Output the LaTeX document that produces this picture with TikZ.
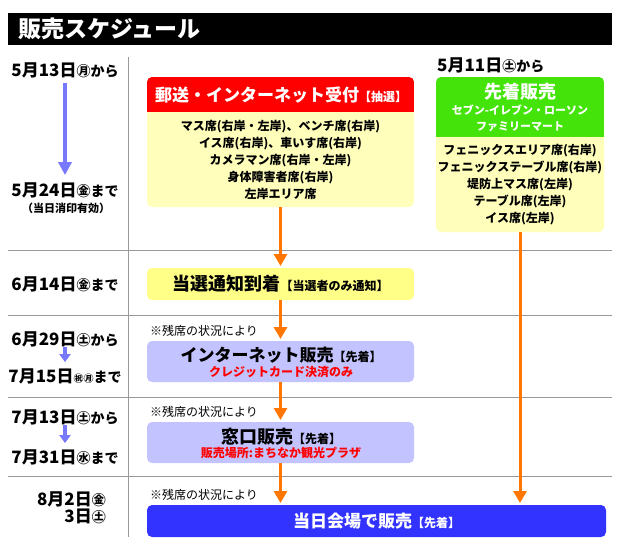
\documentclass[tikz,border=0pt]{standalone}
\usepackage{fontspec}
\setmainfont{Noto Sans CJK JP}
\usetikzlibrary{arrows.meta,positioning}
\definecolor{hdrred}{HTML}{FF0000}
\definecolor{hdrgreen}{HTML}{44E40A}
\definecolor{bodyyellow}{HTML}{FFFFBB}
\definecolor{noticeyellow}{HTML}{FFFF88}
\definecolor{lavender}{HTML}{C3C3FF}
\definecolor{venueblue}{HTML}{3333FF}
\definecolor{flow}{HTML}{FF7700}
\definecolor{period}{HTML}{7878FF}
\definecolor{rule}{HTML}{999999}
\newcommand{\wkd}[1]{{\fontsize{14}{15}\selectfont #1}}
\newcommand{\brk}[1]{{\fontsize{12}{14}\selectfont #1}}
\tikzset{
  box/.style={rounded corners=5pt, inner sep=0pt, outer sep=0pt},
  flowarrow/.style={draw=flow, line width=3pt, shorten >=2pt, -{Triangle[width=13pt,length=12pt]}},
  periodarrow/.style={draw=period, line width=3.3pt, -{Triangle[width=13pt,length=13pt]}},
  datelabel/.style={font=\bfseries\fontsize{17}{18}\selectfont, inner sep=0pt},
  remark/.style={font=\fontsize{12}{14}\selectfont, anchor=west, inner sep=0pt},
  headtext/.style={font=\bfseries\fontsize{18}{20}\selectfont, inner sep=0pt},
  seattext/.style={font=\bfseries\fontsize{12}{16.8}\selectfont, align=center, inner sep=0pt},
  redtext/.style={font=\bfseries\fontsize{12}{14}\selectfont, text=red, inner sep=0pt},
}
\begin{document}
\begin{tikzpicture}[x=1pt,y=-1pt]
\useasboundingbox (0,0) rectangle (620,550);

\fill[black] (8,13) rectangle (612,45);
\node[anchor=west, text=white, font=\bfseries\fontsize{23}{24}\selectfont, inner sep=0pt] (title) at (18,29) {販売スケジュール};

\draw[rule, line width=1pt] (128,57) -- (128,537);
\draw[rule, line width=1pt] (8,250) -- (612,250);
\draw[rule, line width=1pt] (8,315) -- (612,315);
\draw[rule, line width=1pt] (8,397) -- (612,397);
\draw[rule, line width=1pt] (8,476) -- (612,476);

\node[datelabel] (d0513) at (65,70) {5月13日\wkd{㊊から}};
\node[datelabel] (d0524) at (65,190) {5月24日\wkd{㊎まで}};
\node[font=\bfseries\fontsize{11}{12}\selectfont, inner sep=0pt] (postmark) at (66,208) {（当日消印有効）};
\node[datelabel] (d0614) at (65,284) {6月14日\wkd{㊎まで}};
\node[datelabel] (d0629) at (65,339) {6月29日\wkd{㊏から}};
\node[datelabel] (d0715) at (65,376) {7月15日{\fontsize{10}{12}\selectfont ㊗㊊}\wkd{まで}};
\node[datelabel] (d0713) at (65,417) {7月13日\wkd{㊏から}};
\node[datelabel] (d0731) at (65,457) {7月31日\wkd{㊌まで}};
\node[datelabel, anchor=east] (d0802) at (106,499) {8月2日\wkd{㊎}};
\node[datelabel, anchor=east] (d0803) at (106,516) {3日\wkd{㊏}};
\node[datelabel, anchor=west] (d0511) at (437,65) {5月11日\wkd{㊏から}};

\draw[periodarrow, shorten <=5pt, shorten >=7pt] (d0513.south) -- (d0524.north);
\draw[periodarrow, -{Triangle[width=11pt,length=8pt]}, shorten >=6pt] (d0629.south) -- (d0715.north);
\draw[periodarrow, -{Triangle[width=11pt,length=8pt]}, shorten >=6pt] (d0713.south) -- (d0731.north);

\node[box, fill=bodyyellow, minimum width=267pt, minimum height=130pt] (mail) at (280.5,142) {};
\begin{scope}
\clip[rounded corners=5pt] (mail.north west) rectangle (mail.south east);
\fill[hdrred] (mail.north west) rectangle ([yshift=-35pt]mail.north east);
\end{scope}
\node[headtext, text=white, font=\bfseries\fontsize{17}{20}\selectfont] (mailhead) at (281,95) {郵送・インターネット受付\brk{【抽選】}};
\node[seattext] (mailseats) at (280.5,160) {マス席(右岸・左岸)、ベンチ席(右岸)\\イス席(右岸)、車いす席(右岸)\\カメラマン席(右岸・左岸)\\身体障害者席(右岸)\\左岸エリア席};

\node[box, fill=bodyyellow, minimum width=168pt, minimum height=155pt] (shop) at (520,154.5) {};
\begin{scope}
\clip[rounded corners=5pt] (shop.north west) rectangle (shop.south east);
\fill[hdrgreen] (shop.north west) rectangle ([yshift=-60pt]shop.north east);
\end{scope}
\node[headtext, text=white] (shophead) at (520,92) {先着販売};
\node[font=\bfseries\fontsize{11}{15.5}\selectfont, text=white, align=center, inner sep=0pt] (stores) at (520,118.5) {セブン-イレブン・ローソン\\ファミリーマート};
\node[seattext] (shopseats) at (520,184.5) {フェニックスエリア席(右岸)\\フェニックステーブル席(右岸)\\堤防上マス席(左岸)\\テーブル席(左岸)\\イス席(左岸)};

\node[box, fill=noticeyellow, minimum width=267pt, minimum height=32pt] (notice) at (280.5,284) {};
\node[headtext] (noticetext) at (280.5,284) {当選通知到着\brk{【当選者のみ通知】}};

\node[remark] (rem1) at (150,331) {※残席の状況により};
\node[box, fill=lavender, minimum width=267pt, minimum height=41pt] (netsale) at (280.5,361.5) {};
\node[headtext, font=\bfseries\fontsize{17}{20}\selectfont] (nettext) at (281,355) {インターネット販売\brk{【先着】}};
\node[redtext] (netpay) at (281,372) {クレジットカード決済のみ};

\node[remark] (rem2) at (150,412) {※残席の状況により};
\node[box, fill=lavender, minimum width=267pt, minimum height=41pt] (counter) at (280.5,442.5) {};
\node[headtext] (countertext) at (281,437) {窓口販売\brk{【先着】}};
\node[redtext] (counterplace) at (281,453) {販売場所:まちなか観光プラザ};

\node[remark] (rem3) at (150,495) {※残席の状況により};
\node[box, fill=venueblue, minimum width=459pt, minimum height=32pt] (venue) at (376.5,521) {};
\node[headtext, text=white, font=\bfseries\fontsize{17}{20}\selectfont] (venuetext) at (376.5,521) {当日会場で販売\brk{【先着】}};

\draw[flowarrow] (mail) -- (notice);
\draw[flowarrow] (notice) -- (netsale);
\draw[flowarrow] (netsale) -- (counter);
\draw[flowarrow] (counter) -- (counter.south |- venue.north);
\draw[flowarrow] (shop.south) -- (shop.south |- venue.north);
\end{tikzpicture}
\end{document}
